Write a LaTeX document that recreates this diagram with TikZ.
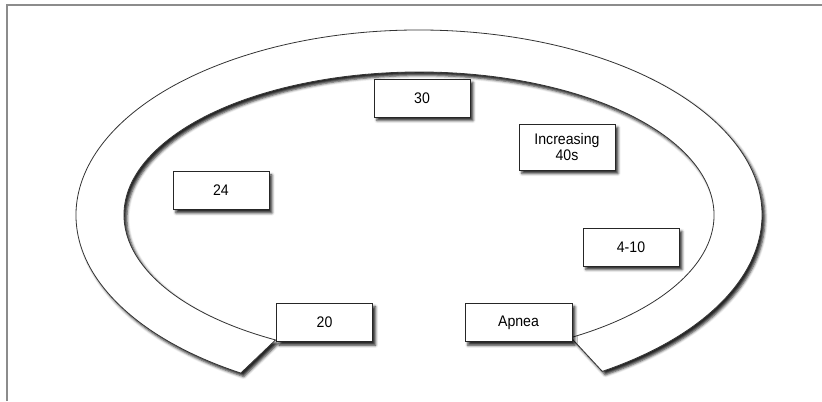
\documentclass[tikz,border=0pt]{standalone}
\usepackage{fontspec}
\setmainfont{Liberation Sans}[FakeStretch=0.92]
\usetikzlibrary{shadows.blur,calc}
\begin{document}
\begin{tikzpicture}[x=0.75pt,y=0.75pt,
  shade/.style={blur shadow={shadow xshift=2.2pt, shadow yshift=-2.6pt, shadow blur radius=2pt, shadow opacity=85}},
  ring/.style={draw=black!80, line width=0.6pt, fill=white, shade},
  box/.style={draw=black!85, line width=0.7pt, fill=white, shade, inner sep=0pt, align=center,
    minimum width=72pt, minimum height=28.5pt, font=\fontsize{11.5}{12.5}\selectfont},
  frame/.style={draw=black!45, line width=1.2pt}]
\useasboundingbox (0,0) rectangle (822,401);
\draw[frame] (7,0) -- (7,396) -- (822,396);
\coordinate (c) at (419,186);
\path[ring] ($(c)+(-57.7:343 and 185)$) arc[start angle=-57.7, end angle=238.7, x radius=343, y radius=185]
  -- ($(c)+(240.9:295 and 143)$) arc[start angle=240.9, end angle=-59, x radius=295, y radius=143] -- cycle;
\node[box] (n30) at (422,303) {30};
\node[box, minimum height=34.5pt] (inc) at (567,254) {Increasing\\40s};
\node[box] (n24) at (221,210.5) {24};
\node[box] (n410) at (631,154) {4-10};
\node[box, minimum height=29pt] (n20) at (324.5,78.5) {20};
\node[box, minimum height=29pt, minimum width=80.25pt] (apnea) at (518.5,78.5) {Apnea};
\end{tikzpicture}
\end{document}
